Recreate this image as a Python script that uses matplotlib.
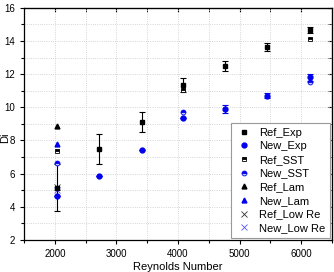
import matplotlib.pyplot as plt
from matplotlib.ticker import MultipleLocator

plt.rcParams['font.family'] = ['Liberation Sans', 'DejaVu Sans']

re_all = [2030, 2713, 3410, 4075, 4770, 5450, 6150]
ref_exp = [5.15, 7.47, 9.14, 11.35, 12.52, 13.63, 14.67]
ref_exp_err = [1.4, 0.9, 0.6, 0.4, 0.3, 0.25, 0.2]
new_exp = [4.67, 5.84, 7.41, 9.34, 9.89, 10.71, 11.8]
new_exp_err = [0.0, 0.0, 0.0, 0.0, 0.25, 0.15, 0.2]

re_sst = [2030, 4075, 6150]
ref_sst = [7.35, 11.05, 14.13]
new_sst = [6.63, 9.7, 11.5]

re_low = [2030]
ref_lam = [8.88]
new_lam = [7.79]
ref_low = [5.2]
new_low = [5.0]


def main():
    fig = plt.figure(figsize=(3.34, 2.72), dpi=100)
    ax = fig.add_axes([0.072, 0.118, 0.922, 0.853])
    ms = 3.5
    blue = '#0000ee'

    e1 = ax.errorbar(re_all, ref_exp, yerr=ref_exp_err, fmt='s', color='black', ms=ms,
                     elinewidth=0.8, capsize=2, capthick=0.8)
    e2 = ax.errorbar(re_all, new_exp, yerr=new_exp_err, fmt='o', color=blue, ms=ms,
                     elinewidth=0.8, capsize=2, capthick=0.8)
    h3, = ax.plot(re_sst, ref_sst, 's', color='black', ms=ms, fillstyle='top',
                  markerfacecoloralt='white', mew=0.6, ls='none')
    h4, = ax.plot(re_sst, new_sst, 'o', color=blue, ms=ms, fillstyle='top',
                  markerfacecoloralt='#c8c8ff', mew=0.6, ls='none')
    h5, = ax.plot(re_low, ref_lam, '^', color='black', ms=ms, ls='none')
    h6, = ax.plot(re_low, new_lam, '^', color=blue, ms=ms, ls='none')
    h7, = ax.plot(re_low, ref_low, 'x', color='#333333', ms=4.5, mew=0.6, ls='none')
    h8, = ax.plot(re_low, new_low, 'x', color='#5555ff', ms=4.5, mew=0.6, ls='none')

    ax.set_xlim(1500, 6500)
    ax.set_ylim(2, 16)
    ax.xaxis.set_major_locator(MultipleLocator(1000))
    ax.xaxis.set_minor_locator(MultipleLocator(500))
    ax.yaxis.set_major_locator(MultipleLocator(2))
    ax.yaxis.set_minor_locator(MultipleLocator(1))
    ax.grid(True, which='both', ls=':', lw=0.6, color='#c8c8c8')
    ax.tick_params(which='both', direction='out', labelsize=7, width=0.8)
    ax.tick_params(which='major', length=3)
    ax.tick_params(which='minor', length=2)
    for s in ax.spines.values():
        s.set_linewidth(0.9)

    top = ax.secondary_xaxis('top')
    top.xaxis.set_major_locator(MultipleLocator(1000))
    top.xaxis.set_minor_locator(MultipleLocator(500))
    top.tick_params(which='both', direction='in', labeltop=False, length=3)
    right = ax.secondary_yaxis('right')
    right.yaxis.set_major_locator(MultipleLocator(2))
    right.yaxis.set_minor_locator(MultipleLocator(1))
    right.tick_params(which='both', direction='in', labelright=False, length=3)

    ax.set_xlabel('Reynolds Number', fontsize=8, labelpad=2)
    ax.set_ylabel('Di', fontsize=8)
    ax.yaxis.set_label_coords(-0.045, 0.44)

    handles = [e1[0], e2[0], h3, h4, h5, h6, h7, h8]
    labels = ['Ref_Exp', 'New_Exp', 'Ref_SST', 'New_SST', 'Ref_Lam', 'New_Lam',
              'Ref_Low Re', 'New_Low Re']
    leg = ax.legend(handles, labels, loc='lower right', fontsize=8, frameon=True,
                    fancybox=False, edgecolor='#999999', framealpha=1,
                    handletextpad=0.7, borderpad=0.45, labelspacing=0.33,
                    handlelength=1.4, borderaxespad=0.15)
    leg.get_frame().set_linewidth(0.8)

    fig.savefig('out.png', dpi=100)


if __name__ == '__main__':
    main()
